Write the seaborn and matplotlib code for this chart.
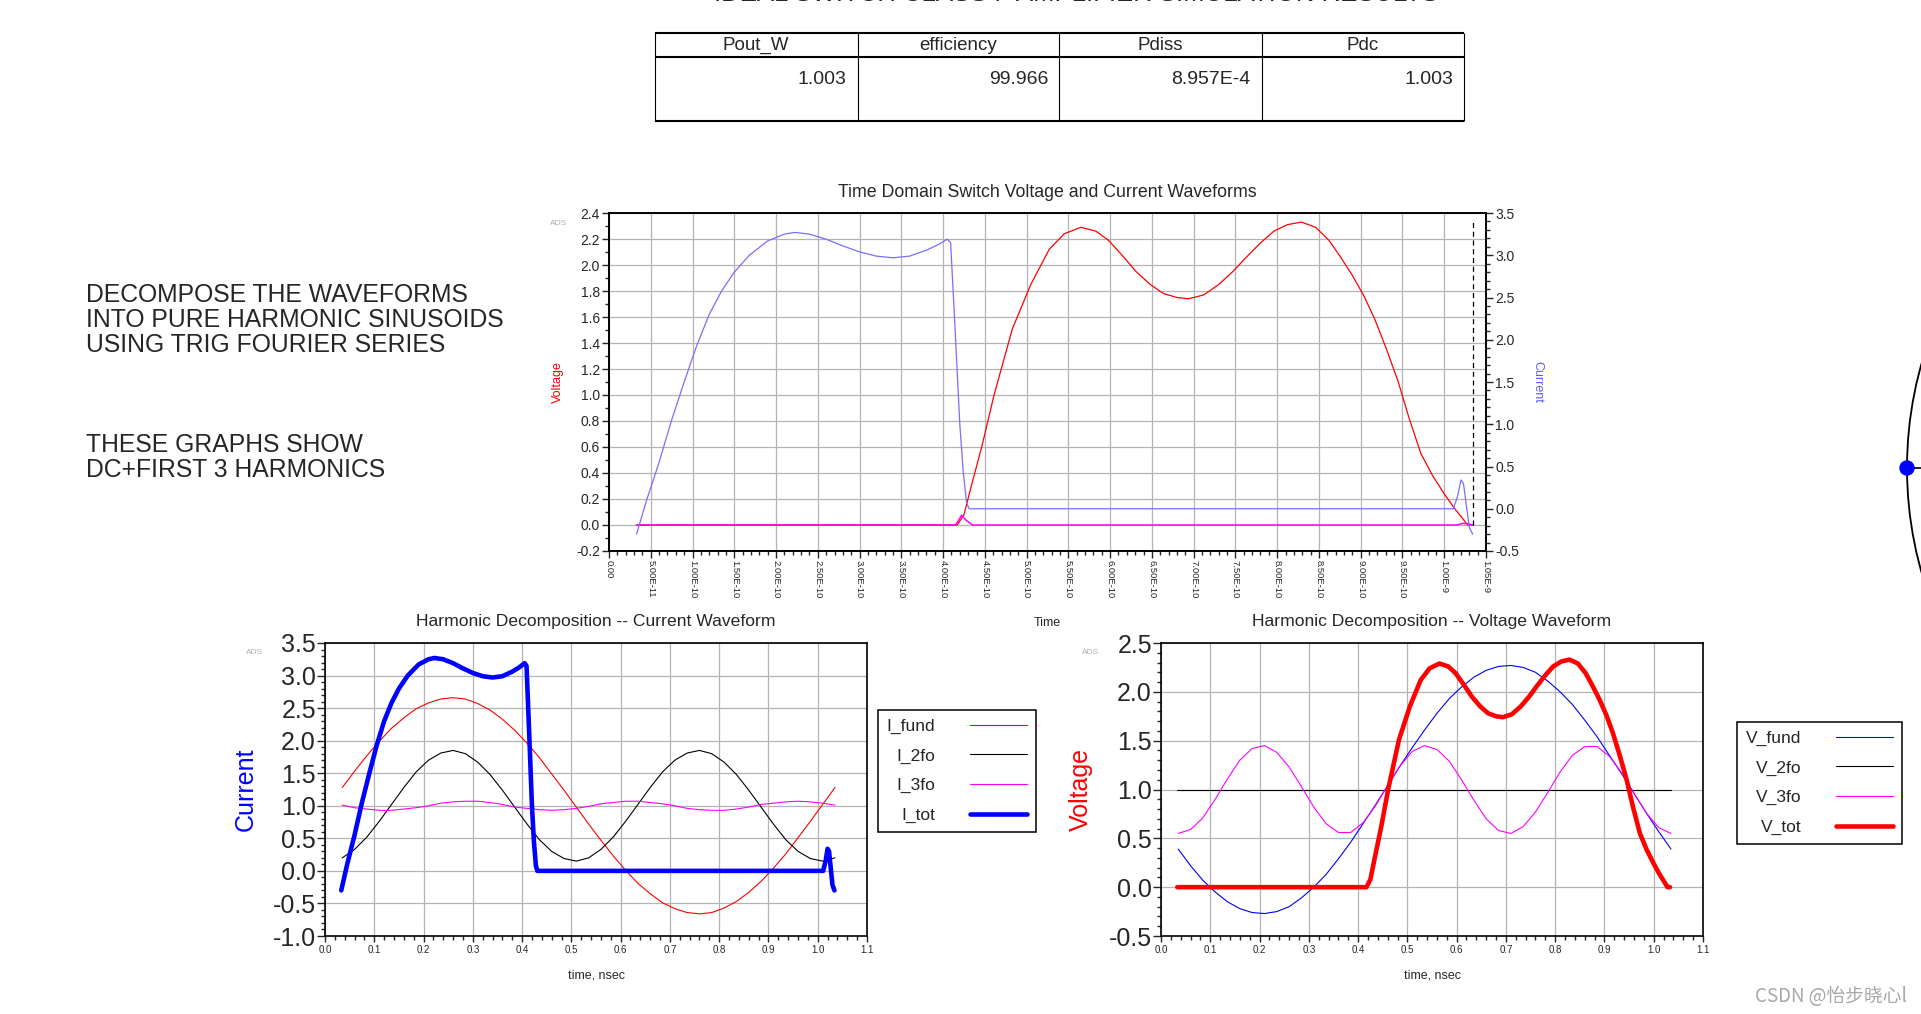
import numpy as np
import matplotlib
matplotlib.use("Agg")
import matplotlib.pyplot as plt
from matplotlib.patches import Circle
from matplotlib.ticker import MultipleLocator
import seaborn as sns

# ---------------- data ----------------
page_title = 'IDEAL SWITCH CLASS F AMPLIFIER SIMULATION RESULTS'
table_cols = ['Pout_W', 'efficiency', 'Pdiss', 'Pdc']
table_vals = ['1.003', '99.966', '8.957E-4', '1.003']

note_1 = ['DECOMPOSE THE WAVEFORMS', 'INTO PURE HARMONIC SINUSOIDS', 'USING TRIG FOURIER SERIES']
note_2 = ['THESE GRAPHS SHOW', 'DC+FIRST 3 HARMONICS']

# switch current (A), time in ns
t_itot = [0.033, 0.045, 0.06, 0.075, 0.09, 0.105, 0.12, 0.135, 0.15, 0.168,
          0.19, 0.21, 0.222, 0.24, 0.26, 0.28, 0.30, 0.32, 0.34, 0.36,
          0.38, 0.395, 0.405, 0.409, 0.412, 0.416, 0.42, 0.424, 0.428, 0.431,
          0.6, 0.8, 1.011, 1.016, 1.020, 1.023, 1.027, 1.030, 1.034]
i_tot = [-0.30, 0.10, 0.55, 1.05, 1.50, 1.93, 2.30, 2.58, 2.80, 3.00,
         3.17, 3.25, 3.27, 3.25, 3.19, 3.11, 3.04, 2.99, 2.97, 2.99,
         3.06, 3.13, 3.19, 3.15, 2.58, 1.80, 1.00, 0.45, 0.08, 0.0,
         0.0, 0.0, 0.0, 0.15, 0.34, 0.30, 0.0, -0.22, -0.30]

# switch voltage (V), time in ns
t_vtot = [0.033, 0.417, 0.425, 0.433, 0.447, 0.461, 0.483, 0.505, 0.527, 0.545,
          0.565, 0.583, 0.598, 0.615, 0.631, 0.648, 0.664, 0.68, 0.694, 0.712,
          0.730, 0.747, 0.763, 0.78, 0.796, 0.812, 0.829, 0.846, 0.862, 0.876,
          0.890, 0.904, 0.917, 0.931, 0.945, 0.958, 0.972, 0.986, 1.0, 1.012,
          1.022, 1.028, 1.033]
v_tot = [0.0, 0.0, 0.08, 0.28, 0.62, 1.0, 1.51, 1.85, 2.12, 2.24,
         2.29, 2.26, 2.19, 2.07, 1.95, 1.85, 1.78, 1.75, 1.74, 1.77,
         1.85, 1.95, 2.06, 2.17, 2.26, 2.31, 2.33, 2.29, 2.19, 2.06,
         1.92, 1.76, 1.58, 1.35, 1.10, 0.82, 0.55, 0.38, 0.24, 0.13,
         0.05, 0.0, 0.0]

# magenta trace of the top plot
t_pd = [0.033, 0.415, 0.419, 0.422, 0.427, 0.435, 1.015, 1.022, 1.028, 1.035]
p_d = [0.0, 0.0, 0.04, 0.075, 0.04, 0.0, 0.0, 0.012, 0.01, 0.0]

# marker line on the top plot
marker_t = 1.035e-9
marker_v = [0.0, 2.33]

# harmonic components, time in ns
t_harm = [0.035, 0.06, 0.085, 0.11, 0.135, 0.16, 0.185, 0.21, 0.235, 0.26,
          0.285, 0.31, 0.335, 0.36, 0.385, 0.41, 0.435, 0.46, 0.485, 0.51,
          0.535, 0.56, 0.585, 0.61, 0.635, 0.66, 0.685, 0.71, 0.735, 0.76,
          0.785, 0.81, 0.835, 0.86, 0.885, 0.91, 0.935, 0.96, 0.985, 1.01, 1.035]
i_fund = [1.28, 1.53, 1.77, 1.99, 2.19, 2.35, 2.49, 2.58, 2.64, 2.66,
          2.64, 2.57, 2.47, 2.33, 2.16, 1.96, 1.74, 1.49, 1.24, 0.98,
          0.72, 0.47, 0.23, 0.01, -0.19, -0.35, -0.49, -0.58, -0.64, -0.66,
          -0.64, -0.57, -0.47, -0.33, -0.16, 0.04, 0.26, 0.51, 0.76, 1.02, 1.28]
i_2fo = [0.20, 0.33, 0.52, 0.76, 1.02, 1.28, 1.52, 1.70, 1.81, 1.85,
         1.80, 1.67, 1.48, 1.24, 0.98, 0.72, 0.48, 0.30, 0.19, 0.15,
         0.20, 0.33, 0.52, 0.76, 1.02, 1.28, 1.52, 1.70, 1.81, 1.85,
         1.80, 1.67, 1.48, 1.24, 0.98, 0.72, 0.48, 0.30, 0.19, 0.15, 0.20]
i_3fo = [1.01, 0.97, 0.95, 0.93, 0.93, 0.95, 0.97, 1.00, 1.04, 1.06,
         1.07, 1.07, 1.05, 1.02, 0.98, 0.96, 0.94, 0.93, 0.94, 0.96,
         0.99, 1.03, 1.05, 1.07, 1.07, 1.05, 1.03, 1.00, 0.96, 0.94,
         0.93, 0.93, 0.95, 0.98, 1.02, 1.04, 1.06, 1.07, 1.06, 1.04, 1.01]
v_fund = [0.39, 0.22, 0.07, -0.05, -0.15, -0.22, -0.26, -0.27, -0.25, -0.20,
          -0.11, 0.00, 0.13, 0.29, 0.46, 0.65, 0.84, 1.04, 1.24, 1.43,
          1.61, 1.78, 1.93, 2.05, 2.15, 2.22, 2.26, 2.27, 2.25, 2.20,
          2.11, 2.00, 1.87, 1.71, 1.54, 1.35, 1.16, 0.96, 0.76, 0.57, 0.39]
t_v2fo = [0.033, 1.035]
v_2fo = [1.0, 1.0]
v_3fo = [0.55, 0.59, 0.71, 0.90, 1.11, 1.30, 1.42, 1.45, 1.38, 1.23,
         1.03, 0.82, 0.65, 0.56, 0.56, 0.66, 0.83, 1.04, 1.24, 1.39,
         1.45, 1.41, 1.29, 1.10, 0.89, 0.70, 0.58, 0.55, 0.62, 0.77,
         0.97, 1.18, 1.35, 1.44, 1.44, 1.34, 1.17, 0.96, 0.76, 0.61, 0.55]

# tick labels
top_xlabels = ['0.00', '5.00E-11', '1.00E-10', '1.50E-10', '2.00E-10', '2.50E-10',
               '3.00E-10', '3.50E-10', '4.00E-10', '4.50E-10', '5.00E-10', '5.50E-10',
               '6.00E-10', '6.50E-10', '7.00E-10', '7.50E-10', '8.00E-10', '8.50E-10',
               '9.00E-10', '9.50E-10', '1.00E-9', '1.05E-9']
top_vlabels = ['-0.2', '0.0', '0.2', '0.4', '0.6', '0.8', '1.0', '1.2', '1.4',
               '1.6', '1.8', '2.0', '2.2', '2.4']
top_ilabels = ['-0.5', '0.0', '0.5', '1.0', '1.5', '2.0', '2.5', '3.0', '3.5']
bot_xlabels = ['0.0', '0.1', '0.2', '0.3', '0.4', '0.5', '0.6', '0.7', '0.8',
               '0.9', '1.0', '1.1']
cur_ylabels = ['-1.0', '-0.5', '0.0', '0.5', '1.0', '1.5', '2.0', '2.5', '3.0', '3.5']
vol_ylabels = ['-0.5', '0.0', '0.5', '1.0', '1.5', '2.0', '2.5']

# ---------------- figure ----------------
W, H = 1921, 1014
sns.set_theme(style='ticks')
plt.rcParams['font.family'] = ['Liberation Sans', 'DejaVu Sans']
plt.rcParams['axes.linewidth'] = 1.2
fig = plt.figure(figsize=(W / 100, H / 100), dpi=100, facecolor='white')


def box(x0, y0, x1, y1):
    return [x0 / W, 1 - y1 / H, (x1 - x0) / W, (y1 - y0) / H]


# page layer (text, table, smith arc)
page = fig.add_axes([0, 0, 1, 1])
page.set_xlim(0, W)
page.set_ylim(H, 0)
page.axis('off')

# heading sits mostly above the top edge, as in the reference
page.text(1076, 1, page_title, ha='center', va='baseline', fontsize=18.5)

tx = [655, 857.5, 1059, 1261.5, 1464]
page.hlines([33, 57, 121], tx[0], tx[-1], color='black', lw=1.5)
page.vlines(tx, 33, 121, color='black', lw=0.8)
for k in range(4):
    page.text((tx[k] + tx[k + 1]) / 2, 45, table_cols[k], ha='center', va='center', fontsize=13.5)
    page.text(tx[k + 1] - 11, 79, table_vals[k], ha='right', va='center', fontsize=14)

for k, s in enumerate(note_1):
    page.text(86, 302 + k * 24.8, s, fontsize=17.8, va='baseline')
for k, s in enumerate(note_2):
    page.text(86, 452 + k * 24.8, s, fontsize=17.8, va='baseline')

page.add_patch(Circle((2289, 468), 382, fill=False, lw=1.3, color='black'))
page.plot([1907, W], [468, 468], color='black', lw=1.2)
page.add_patch(Circle((1907, 468), 7, color='blue', zorder=5))
page.text(1755, 996, 'CSDN @怡步晓心l', fontsize=13.5, color='#a8a8a8', va='center',
          family=['Noto Sans CJK SC', 'DejaVu Sans'])

grid_kw = dict(color='#b4b4b4', lw=0.9)

# ---------------- top plot ----------------
ax = fig.add_axes(box(609, 213, 1486, 551))
sns.lineplot(x=np.array(t_vtot) * 1e-9, y=v_tot, ax=ax, color='red', lw=0.9,
             estimator=None, sort=False)
sns.lineplot(x=np.array(t_pd) * 1e-9, y=p_d, ax=ax, color='#ff00ff', lw=1.1,
             estimator=None, sort=False)
ax.plot([marker_t, marker_t], marker_v, color='black', lw=0.9, ls=(0, (4, 3)))
ax.set_xlim(0, 1.05e-9)
ax.set_ylim(-0.2, 2.4)
ax.set_xticks([float(s) for s in top_xlabels])
ax.set_xticklabels(top_xlabels, rotation=-90, fontsize=6.8, va='top', ha='center')
ax.set_yticks([float(s) for s in top_vlabels])
ax.set_yticklabels(top_vlabels, fontsize=10)
ax.xaxis.set_minor_locator(MultipleLocator(1e-11))
ax.yaxis.set_minor_locator(MultipleLocator(0.1))
ax.tick_params(which='major', direction='out', length=5, width=1, pad=1.5)
ax.tick_params(which='minor', direction='out', length=3, width=1)
ax.grid(True, which='major', **grid_kw)
ax.set_ylabel('Voltage', color='red', fontsize=9)
ax.yaxis.set_label_coords(-0.051, 0.5)
ax.set_xlabel('Time', fontsize=9)
ax.xaxis.set_label_coords(0.5, -0.195)
ax.text(0.5, 1.062, 'Time Domain Switch Voltage and Current Waveforms',
        transform=ax.transAxes, ha='center', va='center', fontsize=12.8)
ax.text(-0.058, 0.97, 'ADS', transform=ax.transAxes, ha='center', va='center',
        fontsize=6, color='#b0b0b0')

axr = ax.twinx()
sns.lineplot(x=np.array(t_itot) * 1e-9, y=i_tot, ax=axr, color='#7a6eff', lw=0.9,
             estimator=None, sort=False)
axr.set_ylim(-0.5, 3.5)
axr.set_yticks([float(s) for s in top_ilabels])
axr.set_yticklabels(top_ilabels, fontsize=10)
axr.yaxis.set_minor_locator(MultipleLocator(0.1))
axr.tick_params(which='major', direction='out', length=5, width=1, pad=1.5)
axr.tick_params(which='minor', direction='out', length=3, width=1)
axr.set_ylabel('Current', color='#5a5aff', fontsize=9, rotation=-90)
axr.yaxis.set_label_coords(1.065, 0.5)
axr.grid(False)


# ---------------- bottom plots ----------------
def harmonic_axes(pos, ylabels, ylim, ylab, ycol, title):
    a = fig.add_axes(pos)
    a.set_xlim(0, 1.1)
    a.set_ylim(*ylim)
    a.set_xticks([float(s) for s in bot_xlabels])
    a.set_xticklabels(bot_xlabels, fontsize=7)
    a.set_yticks([float(s) for s in ylabels])
    a.set_yticklabels(ylabels, fontsize=18)
    a.xaxis.set_minor_locator(MultipleLocator(0.02))
    a.yaxis.set_minor_locator(MultipleLocator(0.1))
    a.tick_params(axis='y', which='major', direction='out', length=5.5, width=1, pad=1)
    a.tick_params(axis='x', which='major', direction='out', length=4.5, width=1, pad=2)
    a.tick_params(which='minor', direction='out', length=3, width=1)
    a.grid(True, which='major', **grid_kw)
    a.set_ylabel(ylab, color=ycol, fontsize=18)
    a.yaxis.set_label_coords(-0.125, 0.5)
    a.set_xlabel('time, nsec', fontsize=9)
    a.xaxis.set_label_coords(0.5, -0.113)
    a.text(0.5, 1.075, title, transform=a.transAxes, ha='center', va='center', fontsize=12.6)
    a.text(-0.13, 0.969, 'ADS', transform=a.transAxes, ha='center', va='center',
           fontsize=6, color='#b0b0b0')
    return a


leg_kw = dict(loc='upper left', bbox_transform=fig.transFigure, markerfirst=False,
              fontsize=12.5, frameon=True, fancybox=False, edgecolor='black',
              framealpha=1, borderpad=0.5, handlelength=3.3, handletextpad=2.0,
              labelspacing=0.83, borderaxespad=0)

ax_i = harmonic_axes(box(325, 643, 867, 936), cur_ylabels, (-1.0, 3.5),
                     'Current', 'blue', 'Harmonic Decomposition -- Current Waveform')
sns.lineplot(x=t_harm, y=i_fund, ax=ax_i, color='red', lw=0.8, label='I_fund', estimator=None, sort=False)
sns.lineplot(x=t_harm, y=i_2fo, ax=ax_i, color='black', lw=0.8, label='I_2fo', estimator=None, sort=False)
sns.lineplot(x=t_harm, y=i_3fo, ax=ax_i, color='#ff00ff', lw=0.8, label='I_3fo', estimator=None, sort=False)
sns.lineplot(x=t_itot, y=i_tot, ax=ax_i, color='blue', lw=3.3, label='I_tot', estimator=None, sort=False)
lg = ax_i.legend(bbox_to_anchor=(878 / W, 1 - 710 / H), **leg_kw)
lg.get_frame().set_linewidth(1.1)

ax_v = harmonic_axes(box(1161, 643, 1703, 936), vol_ylabels, (-0.5, 2.5),
                     'Voltage', 'red', 'Harmonic Decomposition -- Voltage Waveform')
sns.lineplot(x=t_harm, y=v_fund, ax=ax_v, color='blue', lw=0.8, label='V_fund', estimator=None, sort=False)
sns.lineplot(x=t_v2fo, y=v_2fo, ax=ax_v, color='black', lw=0.8, label='V_2fo', estimator=None, sort=False)
sns.lineplot(x=t_harm, y=v_3fo, ax=ax_v, color='#ff00ff', lw=0.8, label='V_3fo', estimator=None, sort=False)
sns.lineplot(x=t_vtot, y=v_tot, ax=ax_v, color='red', lw=3.3, label='V_tot', estimator=None, sort=False)
lg = ax_v.legend(bbox_to_anchor=(1737 / W, 1 - 722 / H), **leg_kw)
lg.get_frame().set_linewidth(1.1)

for a in (ax, axr, ax_i, ax_v):
    for sp in a.spines.values():
        sp.set_visible(True)
        sp.set_color('black')

fig.savefig('out.png', dpi=100, facecolor='white')
